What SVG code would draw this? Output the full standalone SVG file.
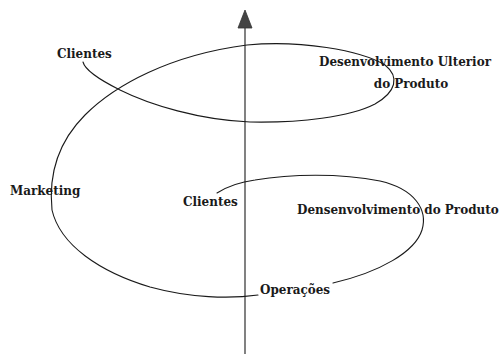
<svg xmlns="http://www.w3.org/2000/svg" width="501" height="354" viewBox="0 0 501 354">
<style>
.c{fill:none;stroke:#1a1a1a;stroke-width:1.1;stroke-linecap:round}
.t{font-family:"DejaVu Serif Condensed","DejaVu Serif",serif;font-stretch:condensed;font-weight:bold;font-size:13.3px;fill:#1a1a1a}
</style>
<rect width="501" height="354" fill="#fff"/>
<g id="connectors">
<path id="axis" class="c" d="M245,26 L245,354"/>
<polygon id="axis-head" points="245,10 238,28 252,28" fill="#444" stroke="#333" stroke-width="0.8"/>
<path id="spiral-inner" class="c" d="M217,193 C228,186 240,182 255,180 C290,174 340,173 380,181 C415,189 428,210 422,230 C415,252 380,272 333,283"/>
<path id="spiral-outer" class="c" d="M258,295 C230,299 190,298 150,287 C100,272 60,245 52,210 C48,170 60,140 85,115 C115,85 170,55 247,45 C300,40 360,50 385,65 C400,77 396,92 375,104 C350,117 300,123 250,122 C200,120 150,105 120,90 C100,80 85,70 83,62"/>
</g>
<g id="clientes-top"><text class="t" x="57" y="58">Clientes</text></g>
<g id="desenvolvimento-ulterior"><text class="t" x="405" y="66" text-anchor="middle">Desenvolvimento Ulterior</text><text class="t" x="411" y="88" text-anchor="middle">do Produto</text></g>
<g id="marketing"><text class="t" x="10" y="195">Marketing</text></g>
<g id="clientes-inner"><text class="t" x="183" y="206">Clientes</text></g>
<g id="densenvolvimento"><text class="t" x="297" y="214">Densenvolvimento do Produto</text></g>
<g id="operacoes"><text class="t" x="260" y="294">Operações</text></g>
</svg>
